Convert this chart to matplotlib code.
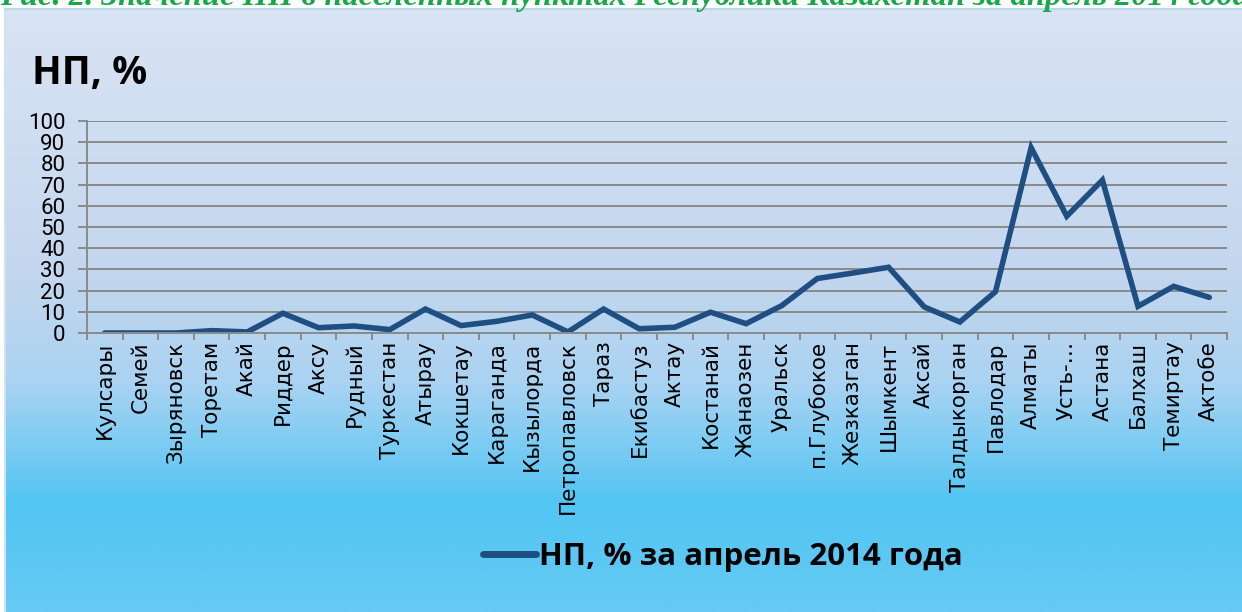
import numpy as np
import matplotlib
matplotlib.use("Agg")
import matplotlib.pyplot as plt
from matplotlib.colors import LinearSegmentedColormap

# data
cities = ["Кулсары", "Семей", "Зыряновск", "Торетам", "Акай", "Риддер", "Аксу",
          "Рудный", "Туркестан", "Атырау", "Кокшетау", "Караганда", "Кызылорда",
          "Петропавловск", "Тараз", "Екибастуз", "Актау", "Костанай", "Жанаозен",
          "Уральск", "п.Глубокое", "Жезказган", "Шымкент", "Аксай", "Талдыкорган",
          "Павлодар", "Алматы", "Усть-…", "Астана", "Балхаш", "Темиртау", "Актобе"]
np_values = [0.0, 0.0, 0.0, 1.1, 0.5, 9.3, 2.5, 3.3, 1.6, 11.3, 3.5, 5.5, 8.5,
             0.5, 11.3, 2.0, 2.7, 9.8, 4.4, 12.9, 25.7, 28.3, 31.0, 12.3, 5.2,
             19.5, 87.4, 55.1, 72.1, 12.6, 22.0, 16.8]
y_ticks = list(range(0, 101, 10))

title = "НП, %"
legend_label = "НП, % за апрель 2014 года"
caption = "Рис. 2. Значение НП в населенных пунктах Республики Казахстан за апрель 2014 года"

fig = plt.figure(figsize=(12.42, 6.12), dpi=100)

# background: white strip on top, gradient panel below
bg = fig.add_axes([0, 0, 1, 1], zorder=-10)
bg.set_axis_off()
grad_cmap = LinearSegmentedColormap.from_list(
    "panel", [(0.0, "#d9e4f4"), (0.45, "#c3d6ee"), (0.62, "#a9d3f2"),
              (0.82, "#52c5f3"), (1.0, "#66caf3")])
grad = np.linspace(0, 1, 256).reshape(-1, 1)
bg.imshow(grad, aspect="auto", cmap=grad_cmap, extent=[0.004, 1, 0, 0.985],
          origin="upper")
bg.set_xlim(0, 1)
bg.set_ylim(0, 1)
bg.axvline(0.004, ymax=0.985, color="#cfe3ea", lw=1.5)
bg.axhline(0.985, xmin=0.004, color="#b9d9e6", lw=1.5)

# caption is cut off at the top edge, as in the source picture
fig.text(0.0, 1.006, caption, color="#1aa64a", fontsize=23.5, fontweight="bold",
         fontstyle="italic", family="Liberation Serif", va="center", ha="left")

ax = fig.add_axes([0.070, 0.4559, 0.918, 0.3464])
ax.patch.set_alpha(0)
x = np.arange(len(cities))
ax.plot(x, np_values, color="#1f4e82", lw=4, solid_joinstyle="miter",
        solid_capstyle="round", label=legend_label)

ax.set_xlim(-0.5, len(cities) - 0.5)
ax.set_ylim(0, 100)
ax.set_yticks(y_ticks)
ax.yaxis.grid(True, color="#8a8a8a", lw=1.4)
ax.set_axisbelow(True)
for s in ["top", "right"]:
    ax.spines[s].set_visible(False)
for s in ["left", "bottom"]:
    ax.spines[s].set_color("#8a8a8a")
    ax.spines[s].set_linewidth(1.4)

ax.set_xticks(x)
ax.set_xticklabels(cities, rotation=90, fontsize=15.5, family="DejaVu Sans")
ax.tick_params(axis="x", length=0, pad=6)
ax.set_xticks(np.arange(-0.5, len(cities)), minor=True)
ax.tick_params(axis="x", which="minor", length=5, color="#8a8a8a", width=1.4)
ax.tick_params(axis="y", length=6.5, color="#8a8a8a", width=1.4, pad=9)
for lab in ax.get_yticklabels():
    lab.set_family("Roboto")
    lab.set_fontsize(16)

fig.text(0.026, 0.88, title, fontsize=28, fontweight="bold",
         family="Open Sans", va="center", ha="left")

fig.legend(loc="center", bbox_to_anchor=(0.582, 0.09), frameon=False,
           prop={"family": "Open Sans", "weight": "bold", "size": 22.5},
           handlelength=1.7, handletextpad=0.1)
for ln in fig.legends[0].get_lines():
    ln.set_linewidth(5)

fig.savefig("out.png", dpi=100)
